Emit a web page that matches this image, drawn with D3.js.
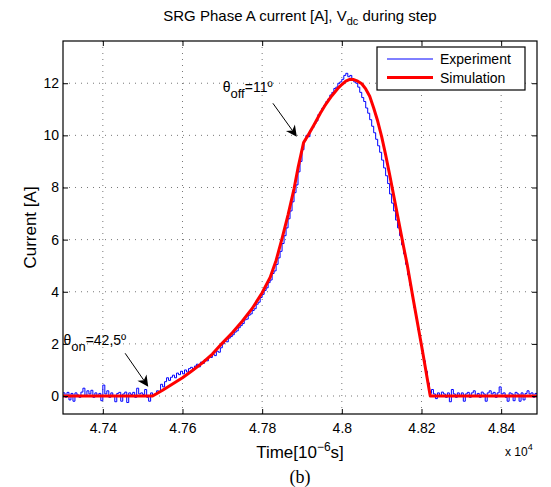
<!DOCTYPE html>
<html>
<head>
<meta charset="utf-8">
<script src="https://cdn.jsdelivr.net/npm/d3@7"></script>
<style>
  body { margin: 0; background: #fff; }
  svg { display: block; }
  text { font-family: "Liberation Sans", Arial, sans-serif; fill: #000; }
</style>
</head>
<body>
<div id="chart"></div>
<script>
// SRG phase A current, experiment vs simulation

// Tick labels
const xTicks = [4.74, 4.76, 4.78, 4.80, 4.82, 4.84];
const yTicks = [0, 2, 4, 6, 8, 10, 12];

// Simulation (red), time in 10^4 us, current in A
const simT = [4.730, 4.7525, 4.755, 4.7575, 4.760, 4.7625, 4.765, 4.7675, 4.770, 4.7725,
  4.775, 4.7775, 4.780, 4.782, 4.7835, 4.785, 4.7865, 4.788, 4.789, 4.7904,
  4.7916, 4.793, 4.7946, 4.796, 4.7975, 4.799, 4.800, 4.801, 4.802, 4.803,
  4.804, 4.805, 4.806, 4.807, 4.808, 4.809, 4.810, 4.811, 4.812, 4.8134,
  4.8155, 4.8164, 4.818, 4.820, 4.8222, 4.849];
const simI = [0, 0, 0.22, 0.46, 0.70, 0.98, 1.27, 1.61, 2.03, 2.43,
  2.87, 3.36, 3.96, 4.55, 5.20, 6.05, 6.95, 7.95, 8.75, 9.72,
  10.02, 10.40, 10.85, 11.20, 11.52, 11.80, 11.95, 12.08, 12.15, 12.14,
  12.08, 11.98, 11.78, 11.50, 11.05, 10.55, 9.95, 9.25, 8.50, 7.39,
  5.73, 5.05, 3.65, 1.95, 0, 0];

// Experiment (blue), sampled every 0.0005 from 4.730
const expStart = 4.730, expStep = 0.0005;
const expI = [
  0.12, -0.05, 0.14, -0.15, 0.10, -0.20, 0.12, 0.04, -0.05, 0.15, 0.30, -0.02, 0.20, 0.08, 0.22, -0.05, 0.12, 0.02, 0.10, -0.18,
  0.42, 0.08, 0.20, -0.05, 0.12, 0.02, -0.22, 0.10, 0.14, -0.20, 0.08, 0.15, -0.25, 0.12, 0.06, 0.14, -0.05, 0.30, 0.08, 0.12,
  0.06, 0.25, -0.05, -0.20, 0.12, 0.02, 0.08, 0.20, 0.15, 0.45, 0.35, 0.55, 0.70, 0.60, 0.72, 0.80, 0.70, 0.88, 0.82, 0.95,
  0.85, 1.00, 0.92, 1.05, 1.10, 1.00, 1.15, 1.22, 1.12, 1.30, 1.25, 1.40, 1.35, 1.50, 1.48, 1.60, 1.55, 1.72, 1.68, 1.85,
  2.00, 2.10, 2.08, 2.22, 2.28, 2.35, 2.45, 2.50, 2.62, 2.70, 2.78, 2.92, 2.95, 3.10, 3.15, 3.28, 3.35, 3.52, 3.60, 3.78,
  3.90, 4.05, 4.15, 4.35, 4.45, 4.70, 4.80, 5.05, 5.30, 5.55, 5.85, 6.15, 6.45, 6.80, 7.10, 7.45, 7.80, 8.10, 8.60, 9.00,
  9.45, 9.80, 10.00, 9.95, 10.20, 10.30, 10.45, 10.55, 10.80, 10.90, 11.05, 11.15, 11.30, 11.40, 11.55, 11.65, 11.80, 11.85, 12.00, 12.05,
  12.15, 12.30, 12.38, 12.25, 12.30, 12.15, 12.05, 12.00, 11.85, 11.65, 11.45, 11.30, 11.05, 10.85, 10.60, 10.35, 10.10, 9.85, 9.60, 9.35,
  9.05, 8.75, 8.45, 8.15, 7.75, 7.40, 7.10, 6.75, 6.45, 6.15, 5.80, 5.45, 5.05, 4.65, 4.25, 3.85, 3.40, 3.00, 2.55, 2.15,
  1.75, 1.35, 0.95, 0.50, 0.10, 0.25, 0.08, -0.10, 0.12, 0.02, 0.15, 0.08, -0.05, 0.12, -0.22, 0.25, 0.08, -0.05, 0.12, 0.02,
  0.12, -0.20, 0.08, 0.14, -0.05, 0.12, 0.20, 0.02, 0.10, -0.05, 0.15, 0.08, -0.20, 0.12, 0.20, 0.08, 0.14, -0.05, 0.12, 0.35,
  0.08, 0.12, -0.05, -0.20, 0.12, 0.08, -0.18, 0.14, 0.08, -0.20, 0.12, -0.15, 0.10, 0.20, 0.08, 0.12, -0.05, 0.10, 0.08, 0.12
];

const width = 551, height = 487;
const margin = {top: 41, right: 14, bottom: 73, left: 63};

const svg = d3.select("#chart").append("svg")
  .attr("width", width)
  .attr("height", height);

const x = d3.scaleLinear().domain([4.730, 4.849]).range([margin.left, width - margin.right]);
const y = d3.scaleLinear().domain([-0.69, 13.62]).range([height - margin.bottom, margin.top]);

// clip for the data lines
svg.append("clipPath").attr("id", "plot-clip")
  .append("rect")
  .attr("x", margin.left).attr("y", margin.top)
  .attr("width", width - margin.left - margin.right)
  .attr("height", height - margin.top - margin.bottom);

// dotted grid
svg.append("g").selectAll("line").data(xTicks).enter().append("line")
  .attr("x1", d => x(d)).attr("x2", d => x(d))
  .attr("y1", margin.top).attr("y2", height - margin.bottom)
  .attr("stroke", "#777").attr("stroke-width", 1).attr("stroke-dasharray", "1,5");
svg.append("g").selectAll("line").data(yTicks).enter().append("line")
  .attr("y1", d => y(d)).attr("y2", d => y(d))
  .attr("x1", margin.left).attr("x2", width - margin.right)
  .attr("stroke", "#777").attr("stroke-width", 1).attr("stroke-dasharray", "1,5");

// experiment trace
const expData = expI.map((v, i) => [expStart + i * expStep, v]);
const simData = simT.map((t, i) => [t, simI[i]]);

const lineGen = d3.line().x(d => x(d[0])).y(d => y(d[1]));

svg.append("path")
  .datum(expData)
  .attr("clip-path", "url(#plot-clip)")
  .attr("fill", "none")
  .attr("stroke", "#0000ff")
  .attr("stroke-width", 1)
  .attr("d", lineGen.curve(d3.curveStepAfter));

svg.append("path")
  .datum(simData)
  .attr("clip-path", "url(#plot-clip)")
  .attr("fill", "none")
  .attr("stroke", "#ff0000")
  .attr("stroke-width", 3)
  .attr("stroke-linejoin", "round")
  .attr("d", lineGen.curve(d3.curveLinear));

// axes, ticks pointing inwards on all four sides
const fmt = d => String(+d.toFixed(2));
svg.append("g")
  .attr("transform", `translate(0,${height - margin.bottom})`)
  .call(d3.axisBottom(x).tickValues(xTicks).tickFormat(fmt).tickSize(-5).tickSizeOuter(0).tickPadding(9))
  .call(g => g.select(".domain").remove())
  .selectAll("text").style("font-size", "14px").attr("font-family", "Liberation Sans, Arial, sans-serif");
svg.append("g")
  .attr("transform", `translate(0,${margin.top})`)
  .call(d3.axisTop(x).tickValues(xTicks).tickFormat("").tickSize(-5).tickSizeOuter(0))
  .call(g => g.select(".domain").remove());
svg.append("g")
  .attr("transform", `translate(${margin.left},0)`)
  .call(d3.axisLeft(y).tickValues(yTicks).tickSize(-5).tickSizeOuter(0).tickPadding(4))
  .call(g => g.select(".domain").remove())
  .selectAll("text").style("font-size", "14px").attr("font-family", "Liberation Sans, Arial, sans-serif");
svg.append("g")
  .attr("transform", `translate(${width - margin.right},0)`)
  .call(d3.axisRight(y).tickValues(yTicks).tickFormat("").tickSize(-5).tickSizeOuter(0))
  .call(g => g.select(".domain").remove());

svg.append("rect")
  .attr("x", margin.left).attr("y", margin.top)
  .attr("width", width - margin.left - margin.right)
  .attr("height", height - margin.top - margin.bottom)
  .attr("fill", "none").attr("stroke", "#000").attr("stroke-width", 1.2);

// title
const title = svg.append("text")
  .attr("x", (margin.left + width - margin.right) / 2).attr("y", 21)
  .attr("text-anchor", "middle").style("font-size", "15px");
title.append("tspan").text("SRG Phase A current [A], V");
title.append("tspan").attr("dy", 4).style("font-size", "11px").text("dc");
title.append("tspan").attr("dy", -4).text(" during step");

// axis labels
const xl = svg.append("text")
  .attr("x", (margin.left + width - margin.right) / 2).attr("y", 458)
  .attr("text-anchor", "middle").style("font-size", "17px");
xl.append("tspan").text("Time[10");
xl.append("tspan").attr("dy", -7).style("font-size", "12px").text("\u22126");
xl.append("tspan").attr("dy", 7).text("s]");

svg.append("text")
  .attr("transform", `translate(36,${(margin.top + height - margin.bottom) / 2}) rotate(-90)`)
  .attr("text-anchor", "middle").style("font-size", "17px")
  .text("Current [A]");

const ex = svg.append("text").attr("x", 505).attr("y", 456).style("font-size", "12px");
ex.append("tspan").text("x 10");
ex.append("tspan").attr("dy", -6).style("font-size", "9px").text("4");

svg.append("text")
  .attr("x", (margin.left + width - margin.right) / 2).attr("y", 483)
  .attr("text-anchor", "middle")
  .style("font-family", "Liberation Serif, Times New Roman, serif").style("font-size", "18px")
  .text("(b)");

// legend
const legend = svg.append("g");
legend.append("rect")
  .attr("x", 377).attr("y", 47).attr("width", 148).attr("height", 43)
  .attr("fill", "#fff").attr("stroke", "#000").attr("stroke-width", 1.2);
const legendItems = [
  {name: "Experiment", color: "#0000ff", w: 1},
  {name: "Simulation", color: "#ff0000", w: 3}
];
legendItems.forEach((d, i) => {
  const cy = 59 + i * 18.5;
  legend.append("line")
    .attr("x1", 387).attr("x2", 433).attr("y1", cy).attr("y2", cy)
    .attr("stroke", d.color).attr("stroke-width", d.w);
  legend.append("text")
    .attr("x", 440).attr("y", cy + 5)
    .style("font-size", "14px").text(d.name);
});

// annotations (positions in data units)
const notes = [
  {main: "\u03b8", sub: "off", rest: "=11\u00ba", tx: 4.7701, ty: 11.68, ax: 4.7827, ay: 11.23, bx: 4.7887, by: 9.95},
  {main: "\u03b8", sub: "on", rest: "=42,5\u00ba", tx: 4.7301, ty: 1.96, ax: 4.7456, ay: 1.64, bx: 4.7514, by: 0.36}
];
notes.forEach(n => {
  const t = svg.append("text").attr("x", x(n.tx)).attr("y", y(n.ty)).style("font-size", "14px");
  t.append("tspan").text(n.main);
  t.append("tspan").attr("dy", 6).style("font-size", "13px").text(n.sub);
  t.append("tspan").attr("dy", -6).text(n.rest);

  const x1 = x(n.ax), y1 = y(n.ay), x2 = x(n.bx), y2 = y(n.by);
  const ang = Math.atan2(y2 - y1, x2 - x1);
  const L = 11, W = 5.5;
  const ux = Math.cos(ang), uy = Math.sin(ang);
  const bx = x2 - ux * L, by = y2 - uy * L;
  const nx = x2 - ux * L * 0.7, ny = y2 - uy * L * 0.7;
  svg.append("line")
    .attr("x1", x1).attr("y1", y1).attr("x2", nx).attr("y2", ny)
    .attr("stroke", "#000").attr("stroke-width", 1);
  svg.append("path")
    .attr("d", `M${x2},${y2}L${bx - uy * W},${by + ux * W}L${nx},${ny}L${bx + uy * W},${by - ux * W}Z`)
    .attr("fill", "#000");
});
</script>
</body>
</html>
